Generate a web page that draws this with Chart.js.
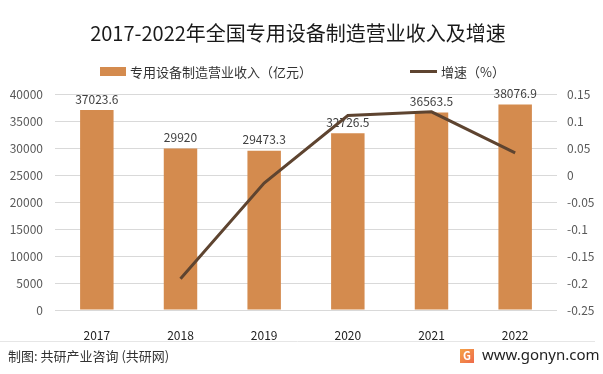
<!DOCTYPE html>
<html>
<head>
<meta charset="utf-8">
<script src="https://cdn.jsdelivr.net/npm/chart.js@4.4.0/dist/chart.umd.min.js"></script>
<style>
  html, body { margin: 0; padding: 0; background: #fff; }
  #wrap { width: 603px; height: 374px; position: relative; }
</style>
</head>
<body>
<div id="wrap"><canvas id="chart" width="603" height="374"></canvas></div>
<script>
const years = ['2017', '2018', '2019', '2020', '2021', '2022'];
const revenue = [37023.6, 29920, 29473.3, 32726.5, 36563.5, 38076.9];
const growth = [null, -0.192, -0.015, 0.110, 0.117, 0.041];

const titleText = '2017-2022年全国专用设备制造营业收入及增速';
const revenueLabel = '专用设备制造营业收入（亿元）';
const growthLabel = '增速（%）';
const sourceText = '制图: 共研产业咨询 (共研网)';
const siteText = 'www.gonyn.com';

const barColor = '#D48B4E';
const lineColor = '#5E4430';
const cjk = '"Noto Sans CJK SC", "Noto Sans", sans-serif';

// title, legend, bar value labels and footer
const decorations = {
    id: 'decorations',
    afterDatasetDraw(chart, args) {
        if (args.index !== 0) return;
        const ctx = chart.ctx;
        const meta = chart.getDatasetMeta(0);
        ctx.save();
        ctx.font = '12px ' + cjk;
        ctx.fillStyle = '#404040';
        ctx.textAlign = 'center';
        ctx.textBaseline = 'bottom';
        meta.data.forEach(function (bar, i) {
            ctx.fillText(String(revenue[i]), bar.x, bar.y - 5);
        });
        ctx.restore();
    },
    afterDraw(chart) {
        const ctx = chart.ctx;
        ctx.save();
        ctx.fillStyle = '#1a1a1a';
        ctx.font = '20px ' + cjk;
        ctx.textAlign = 'center';
        ctx.textBaseline = 'middle';
        ctx.fillText(titleText, 298, 33);

        // legend
        ctx.font = '13px ' + cjk;
        ctx.textAlign = 'left';
        ctx.fillStyle = barColor;
        ctx.fillRect(100, 67, 26, 9);
        ctx.fillStyle = '#333';
        ctx.fillText(revenueLabel, 130, 72);
        ctx.strokeStyle = lineColor;
        ctx.lineWidth = 3;
        ctx.beginPath();
        ctx.moveTo(410, 71.5);
        ctx.lineTo(437, 71.5);
        ctx.stroke();
        ctx.fillText(growthLabel, 441, 72);

        // footer
        ctx.strokeStyle = '#e6e6e6';
        ctx.lineWidth = 1;
        ctx.beginPath();
        ctx.moveTo(0, 341.5);
        ctx.lineTo(595, 341.5);
        ctx.stroke();
        ctx.fillStyle = '#333';
        ctx.font = '13px ' + cjk;
        ctx.fillText(sourceText, 8, 356);
        const g = ctx.createLinearGradient(460, 349, 474, 363);
        g.addColorStop(0, '#F5A347');
        g.addColorStop(1, '#EE6A4A');
        ctx.fillStyle = g;
        ctx.fillRect(460, 349, 14, 14);
        ctx.fillStyle = '#fff';
        ctx.font = 'bold 11px ' + cjk;
        ctx.textAlign = 'center';
        ctx.fillText('G', 467, 356);
        ctx.fillStyle = '#222';
        ctx.font = '15px "Noto Sans", sans-serif';
        ctx.textAlign = 'left';
        ctx.fillText(siteText, 482, 356);
        ctx.restore();
    }
};

new Chart(document.getElementById('chart'), {
    data: {
        labels: years,
        datasets: [{
            type: 'bar',
            label: revenueLabel,
            data: revenue,
            backgroundColor: barColor,
            barPercentage: 0.8,
            categoryPercentage: 0.5,
            yAxisID: 'y',
            order: 1
        }, {
            type: 'line',
            label: growthLabel,
            data: growth,
            borderColor: lineColor,
            borderWidth: 3,
            pointRadius: 0,
            tension: 0,
            yAxisID: 'y1',
            order: 0
        }]
    },
    options: {
        responsive: false,
        animation: false,
        layout: {padding: {top: 94, left: 0, right: 0, bottom: 0}},
        plugins: {
            legend: {display: false},
            title: {display: false},
            tooltip: {enabled: false}
        },
        scales: {
            x: {
                grid: {display: false},
                border: {display: false},
                ticks: {color: '#222', font: {size: 12, family: cjk}, padding: 10},
                afterFit: function (scale) { scale.height = 64; }
            },
            y: {
                position: 'left',
                min: 0,
                max: 40000,
                ticks: {
                    stepSize: 5000,
                    color: '#595959',
                    font: {size: 12, family: cjk},
                    padding: 12,
                    callback: function (v) { return String(v); }
                },
                grid: {color: '#d9d9d9', drawTicks: false},
                border: {display: false},
                afterFit: function (scale) { scale.width = 55; }
            },
            y1: {
                position: 'right',
                min: -0.25,
                max: 0.15,
                ticks: {
                    stepSize: 0.05,
                    color: '#595959',
                    font: {size: 12, family: cjk},
                    padding: 10,
                    callback: function (v) { return String(Number(v.toFixed(2))); }
                },
                grid: {display: false, drawTicks: false},
                border: {display: false},
                afterFit: function (scale) { scale.width = 46; }
            }
        }
    },
    plugins: [decorations]
});
</script>
</body>
</html>
